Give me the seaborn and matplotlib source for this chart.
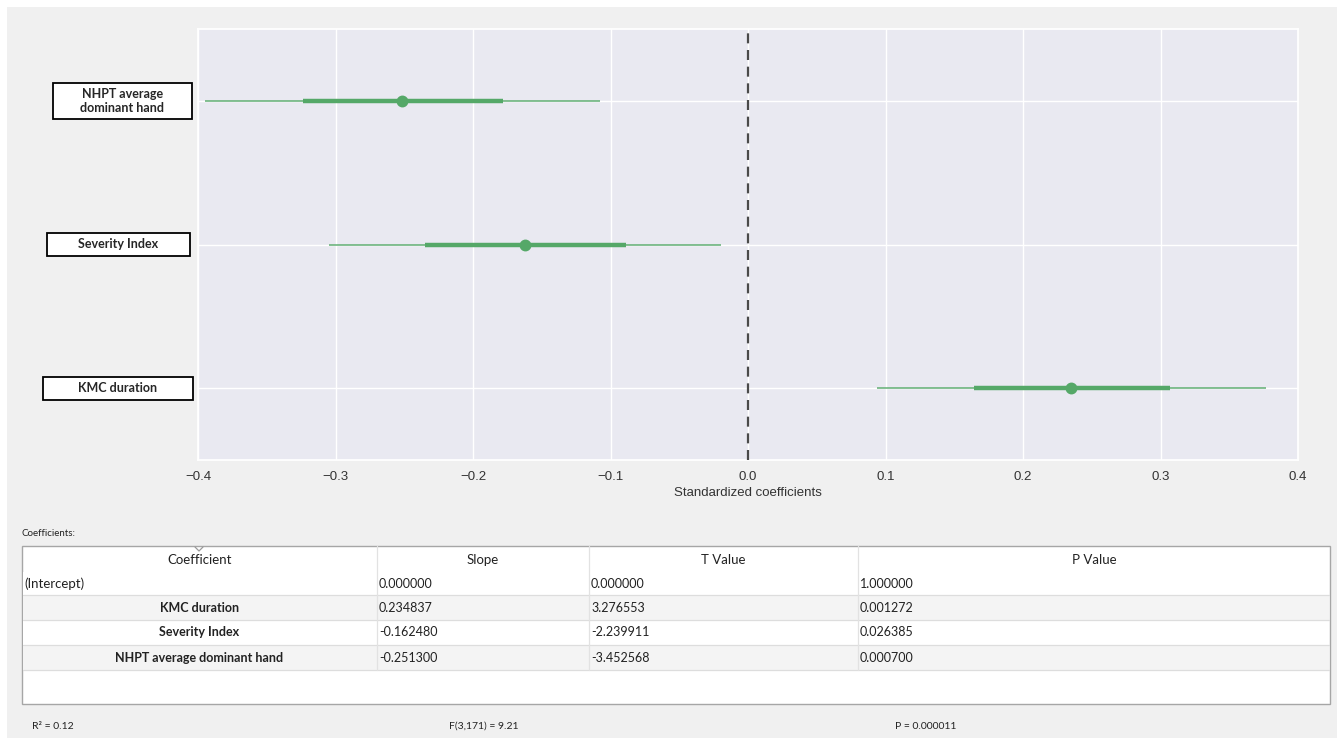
import numpy as np
import pandas as pd
import matplotlib
matplotlib.use('Agg')
import matplotlib.pyplot as plt
import seaborn as sns
from matplotlib.patches import Rectangle

# ---------------------------------------------------------------------------
# data
# ---------------------------------------------------------------------------
terms = ['NHPT average\ndominant hand', 'Severity Index', 'KMC duration']
coef = [-0.2513, -0.16248, 0.234837]
inner_low = [-0.324, -0.235, 0.164]
inner_high = [-0.178, -0.089, 0.307]
outer_low = [-0.395, -0.305, 0.094]
outer_high = [-0.108, -0.020, 0.377]
x_ticks = [-0.4, -0.3, -0.2, -0.1, 0.0, 0.1, 0.2, 0.3, 0.4]

table_header = ['Coefficient', 'Slope', 'T Value', 'P Value']
table_names = ['(Intercept)', 'KMC duration', 'Severity Index', 'NHPT average dominant hand']
table_slope = ['0.000000', '0.234837', '-0.162480', '-0.251300']
table_t = ['0.000000', '3.276553', '-2.239911', '-3.452568']
table_p = ['1.000000', '0.001272', '0.026385', '0.000700']

fit_stats = ['R\u00b2 = 0.12', 'F(3,171) = 9.21', 'P = 0.000011']

# ---------------------------------------------------------------------------
# style
# ---------------------------------------------------------------------------
W, H = 1337, 738
green = '#55a868'
sns.set_theme(style='darkgrid')
plt.rcParams['font.family'] = ['Liberation Sans', 'DejaVu Sans']
ui_font = ['Lato', 'DejaVu Sans']


def fx(px):
    return px / W


def fy(py):
    return 1 - py / H


fig = plt.figure(figsize=(W / 100, H / 100), dpi=100)
fig.patch.set_facecolor('white')
fig.patches.append(Rectangle((fx(7), 0), 1 - fx(7), fy(7), transform=fig.transFigure,
                             facecolor='#f0f0f0', edgecolor='none', zorder=-10))

# ---------------------------------------------------------------------------
# coefficient plot
# ---------------------------------------------------------------------------
ax = fig.add_axes([fx(198), fy(460), fx(1298) - fx(198), fy(29) - fy(460)])
ax.set_facecolor('#e9e9f1')

df = pd.DataFrame({'term': terms, 'coef': coef})
rows = np.arange(len(terms))

ax.hlines(rows, outer_low, outer_high, color=green, lw=1.2, alpha=0.85, zorder=3)
ax.hlines(rows, inner_low, inner_high, color=green, lw=3.2, zorder=4)
sns.pointplot(data=df, x='coef', y='term', color=green, linestyle='none',
              errorbar=None, markersize=6.5, ax=ax, zorder=5)

ax.axvline(0, color='#4a4a4a', lw=1.6, ls=(0, (4.5, 3)), zorder=6)
ax.set_xlim(-0.4, 0.4)
ax.set_ylim(2.5, -0.5)
ax.set_xticks(x_ticks)
ax.set_xticklabels([f'{t:.1f}'.replace('-', '\u2212') for t in x_ticks])
ax.tick_params(axis='x', labelsize=9.5, colors='#333333', pad=2)
ax.tick_params(axis='y', labelleft=False)
ax.set_ylabel('')
ax.set_xlabel('Standardized coefficients', fontsize=9.5, color='#333333', labelpad=3)
ax.grid(True, color='white', lw=1.0)

# boxed row labels
box_x = [(53, 192), (47, 190), (43, 193)]
box_h = [36, 23, 23]
fig.canvas.draw()
for i, name in enumerate(terms):
    y_disp = ax.transData.transform((0, i))[1]
    yc = H - y_disp
    x0, x1 = box_x[i]
    h = box_h[i]
    fig.patches.append(Rectangle((fx(x0), fy(yc + h / 2)), fx(x1) - fx(x0), h / H,
                                 transform=fig.transFigure, facecolor='white',
                                 edgecolor='black', lw=1.3, zorder=5))
    fig.text(fx((x0 + x1) / 2), fy(yc), name, ha='center', va='center',
             fontsize=9, fontweight='bold', family=ui_font, linespacing=1.25,
             zorder=6)

# ---------------------------------------------------------------------------
# coefficient table
# ---------------------------------------------------------------------------
fig.text(fx(22), fy(534), 'Coefficients:', fontsize=7, family=ui_font,
         va='center', color='#222222')

col_x = [22, 377, 589, 858, 1330]
tab_top, tab_bot = 546, 704
head_bot = 572
row_edges = [572, 595, 620, 645, 670]

fig.patches.append(Rectangle((fx(22), fy(tab_bot)), fx(1330) - fx(22), (tab_bot - tab_top) / H,
                             transform=fig.transFigure, facecolor='white',
                             edgecolor='#a6a6a6', lw=1.0, zorder=1))
for r in range(len(table_names)):
    top, bot = row_edges[r], row_edges[r + 1]
    shade = '#f4f4f4' if r % 2 == 1 else 'white'
    fig.patches.append(Rectangle((fx(23), fy(bot)), fx(1329) - fx(23), (bot - top) / H,
                                 transform=fig.transFigure, facecolor=shade,
                                 edgecolor='none', zorder=2))
    fig.lines.append(plt.Line2D([fx(23), fx(1329)], [fy(bot), fy(bot)],
                                transform=fig.transFigure, color='#dddddd', lw=0.9, zorder=3))
for cx in col_x[1:-1]:
    fig.lines.append(plt.Line2D([fx(cx), fx(cx)], [fy(tab_top), fy(row_edges[-1])],
                                transform=fig.transFigure, color='#e2e2e2', lw=0.9, zorder=3))

for c, label in enumerate(table_header):
    fig.text(fx((col_x[c] + col_x[c + 1]) / 2), fy((tab_top + head_bot) / 2 + 1), label,
             ha='center', va='center', fontsize=9.5, family=ui_font, color='#222222', zorder=4)
# little sort chevron above the first header
fig.lines.append(plt.Line2D([fx(195), fx(199), fx(203)], [fy(547), fy(551), fy(547)],
                            transform=fig.transFigure, color='#9a9a9a', lw=0.9, zorder=4))

for r in range(len(table_names)):
    yc = fy((row_edges[r] + row_edges[r + 1]) / 2)
    if r == 0:
        fig.text(fx(24), yc, table_names[r], ha='left', va='center', fontsize=9.5,
                 family=ui_font, color='#222222', zorder=4)
    else:
        fig.text(fx((col_x[0] + col_x[1]) / 2), yc, table_names[r], ha='center',
                 va='center', fontsize=9, fontweight='bold', family=ui_font,
                 color='#222222', zorder=4)
    for c, vals in enumerate([table_slope, table_t, table_p]):
        fig.text(fx(col_x[c + 1] + 2), yc, vals[r], ha='left', va='center',
                 fontsize=9, family=ui_font, color='#222222', zorder=4)

# fit statistics under the table
for x_px, s in zip([32, 449, 895], fit_stats):
    fig.text(fx(x_px), fy(729), s, ha='left', va='baseline', fontsize=7.5,
             family=ui_font, color='#222222')

fig.savefig('out.png', dpi=100, facecolor=fig.get_facecolor())
